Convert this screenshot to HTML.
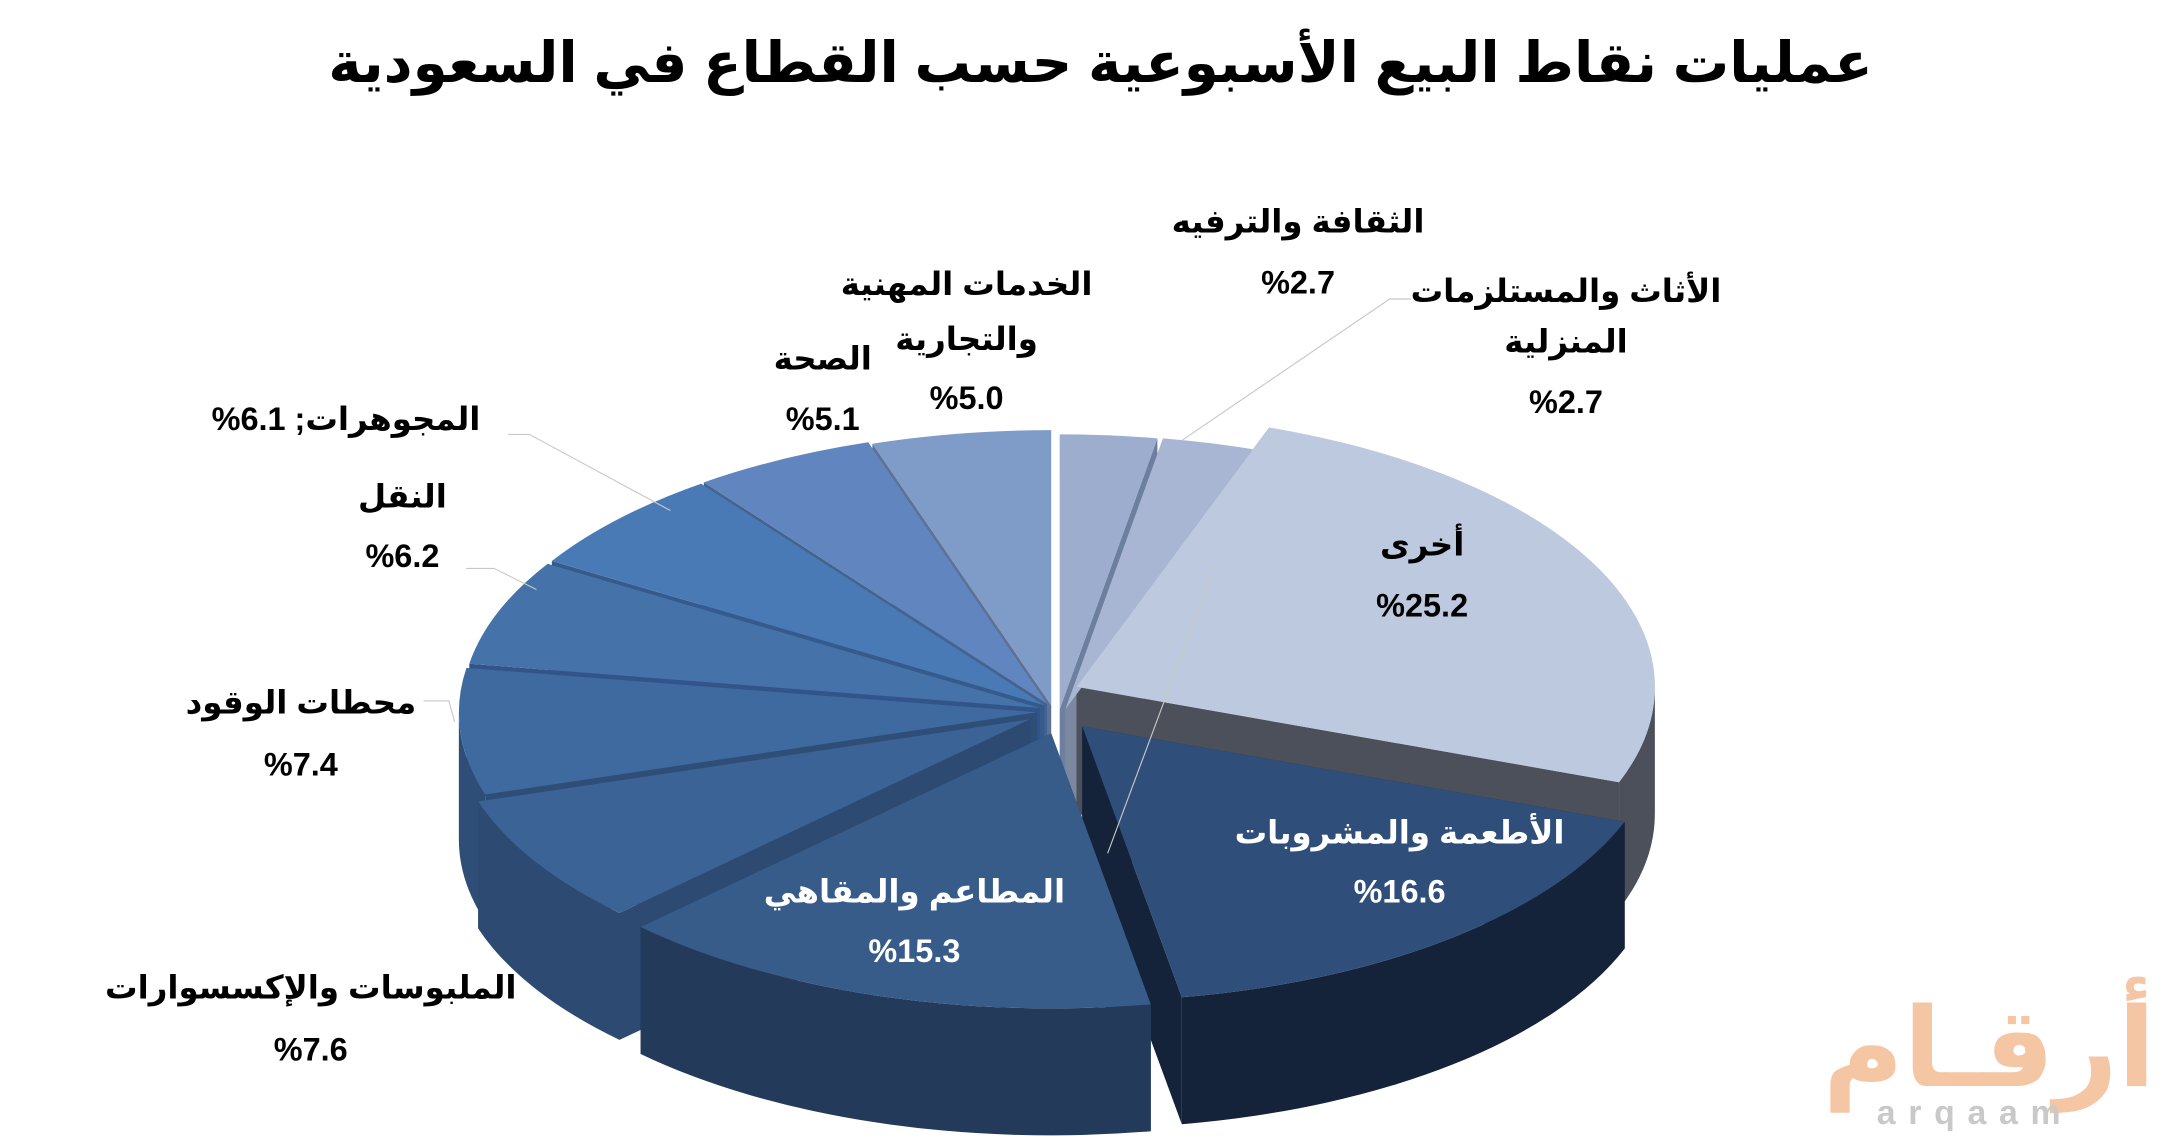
<!DOCTYPE html>
<html><head><meta charset="utf-8"><style>
html,body{margin:0;padding:0;background:#fff;}
svg{display:block;}
text{font-family:"Liberation Sans","DejaVu Sans",sans-serif;font-weight:bold;}
</style></head><body>
<svg id="s" width="2180" height="1141" viewBox="0 0 1545 809" xmlns="http://www.w3.org/2000/svg">
<rect width="1545" height="809" fill="#fff"/>
<g id="pie"></g>
<g stroke="#c8c8c8" stroke-width="0.8" fill="none">
<polyline points="862,398 785,605"/>
<polyline points="1000,212 985,212 838,312"/>
<polyline points="360,308 375,308 475,362"/>
<polyline points="330,403 350,403 380,418"/>
<polyline points="300,497 318,497 322,512"/>
</g>
<g font-size="23" fill="#000" text-anchor="middle" direction="rtl">
<text x="780" y="58" font-size="40" direction="rtl">عمليات نقاط البيع الأسبوعية حسب القطاع في السعودية</text>
<text x="920" y="165">الثقافة والترفيه</text>
<text x="920" y="208">%2.7</text>
<text x="1110" y="214">الأثاث والمستلزمات</text>
<text x="1110" y="250">المنزلية</text>
<text x="1110" y="293">%2.7</text>
<text x="685" y="209">الخدمات المهنية</text>
<text x="685" y="248">والتجارية</text>
<text x="685" y="290">%5.0</text>
<text x="583" y="262">الصحة</text>
<text x="583" y="305">%5.1</text>
<text x="245" y="305">المجوهرات; 6.1%</text>
<text x="285" y="360">النقل</text>
<text x="285" y="402">%6.2</text>
<text x="213" y="506">محطات الوقود</text>
<text x="213" y="550">%7.4</text>
<text x="220" y="708">الملبوسات والإكسسوارات</text>
<text x="220" y="752">%7.6</text>
<text x="1008" y="394">أخرى</text>
<text x="1008" y="437">%25.2</text>
<text x="992" y="598" fill="#fff">الأطعمة والمشروبات</text>
<text x="992" y="640" fill="#fff">%16.6</text>
<text x="648" y="640" fill="#fff">المطاعم والمقاهي</text>
<text x="648" y="682" fill="#fff">%15.3</text>
</g>
<g fill="#f5c6a4" text-anchor="middle">
<text x="1410" y="770" font-size="78" direction="rtl">أرقـام</text>
<text x="1400" y="797" font-size="24" fill="#c9c9c9" font-weight="normal" letter-spacing="9">arqaam</text>
</g>
</svg>
<script>
(function(){
var cx=745,cy=505,rx=410,ry=195,D=90;
var S=[
 {v:2.7,top:"#9cadce",side:"#6d7f9e",o:[6,-2]},
 {v:2.7,top:"#a8b6d3",side:"#7b889f",o:[10,-2]},
 {v:25.2,top:"#bdc9de",side:"#4c505b",o:[18,-18]},
 {v:16.6,top:"#2f4f7a",side:"#14223a",o:[22,10]},
 {v:15.3,top:"#375c8a",side:"#233a5b",o:[0,15]},
 {v:7.6,top:"#3b6395",side:"#2c4a72",o:[-15,5]},
 {v:7.4,top:"#3f6a9f",side:"#2e4e78",o:[-10,0]},
 {v:6.2,top:"#4472a9",side:"#32548a",o:[-8,-3]},
 {v:6.1,top:"#4a7ab6",side:"#355a8c",o:[-5,-5]},
 {v:5.1,top:"#6185be",side:"#45638f",o:[-3,-6]},
 {v:5.0,top:"#7f9bc8",side:"#5d7296",o:[0,-5]}
];
var tot=0;S.forEach(function(s){tot+=s.v});
var a=0;S.forEach(function(s){s.t1=a;a+=s.v/tot*2*Math.PI;s.t2=a;s.m=(s.t1+s.t2)/2;});
function P(t,o,dz){return [cx+o[0]+rx*Math.sin(t),cy+o[1]-ry*Math.cos(t)+(dz||0)];}
function f(p){return p[0].toFixed(1)+","+p[1].toFixed(1);}
var g=document.getElementById("pie"),h="";
var order=S.slice().sort(function(x,y){return Math.cos(y.m)-Math.cos(x.m);});
order.forEach(function(s){
 var c=[cx+s.o[0],cy+s.o[1]],cd=[c[0],c[1]+D];
 [s.t1,s.t2].forEach(function(t){
  var r=P(t,s.o),rd=P(t,s.o,D);
  h+='<path d="M'+f(c)+' L'+f(r)+' L'+f(rd)+' L'+f(cd)+'Z" fill="'+s.side+'"/>';
 });
 var A=Math.max(s.t1,Math.PI/2),B=Math.min(s.t2,1.5*Math.PI);
 if(B>A){
  var pa=P(A,s.o),pb=P(B,s.o),pbd=P(B,s.o,D),pad=P(A,s.o,D);
  h+='<path d="M'+f(pa)+' A'+rx+' '+ry+' 0 0 1 '+f(pb)+' L'+f(pbd)+' A'+rx+' '+ry+' 0 0 0 '+f(pad)+'Z" fill="'+s.side+'"/>';
 }
});
S.forEach(function(s){
 var c=[cx+s.o[0],cy+s.o[1]],p1=P(s.t1,s.o),p2=P(s.t2,s.o);
 var la=(s.t2-s.t1)>Math.PI?1:0;
 h+='<path d="M'+f(c)+' L'+f(p1)+' A'+rx+' '+ry+' 0 '+la+' 1 '+f(p2)+'Z" fill="'+s.top+'"/>';
});
g.innerHTML=h;
})();
</script>
</body></html>
